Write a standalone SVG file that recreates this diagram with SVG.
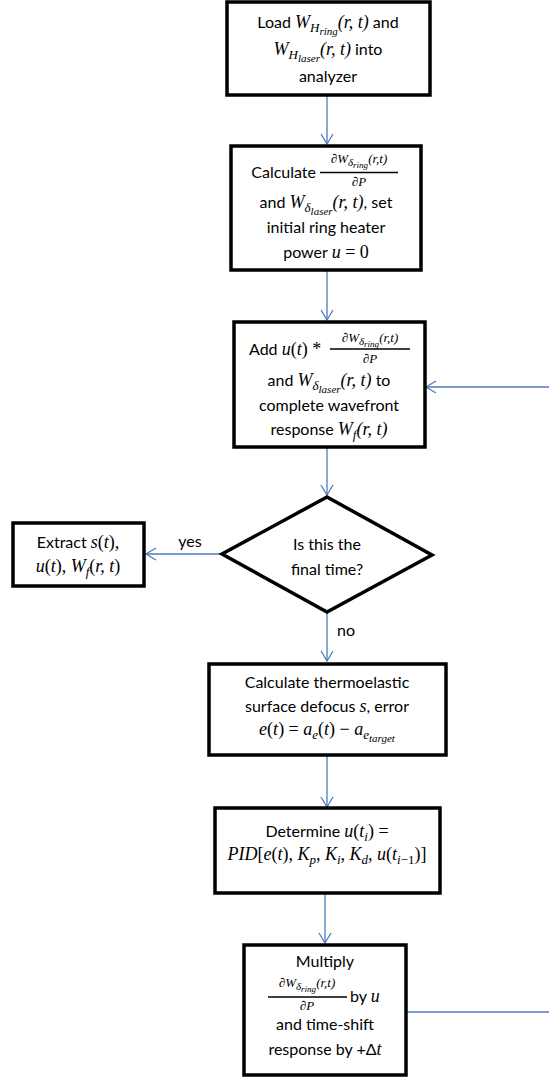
<svg xmlns="http://www.w3.org/2000/svg" width="549" height="1081" viewBox="0 0 549 1081">
<defs>
<style>
.box{fill:#fff;stroke:#000;stroke-width:3.5}
.t{font-family:Lato,"Noto Sans",sans-serif;font-size:16px;fill:#000;text-anchor:middle}
.ts{text-anchor:start}
.te{text-anchor:end}
.m{font-family:"Liberation Serif",serif;font-style:italic;font-size:18px}
.mu{font-family:"Liberation Serif",serif;font-style:normal;font-size:18px}
.s1{font-size:13px}
.s2{font-size:11px}
.f1{font-size:13px}
.f2{font-size:11px}
.f3{font-size:9px}
.bar{stroke:#000;stroke-width:1.5}
.conn{stroke:#4a7ebb;stroke-width:1.3;fill:none}
</style>
<marker id="arr" markerUnits="userSpaceOnUse" markerWidth="14" markerHeight="14" refX="11" refY="7" orient="auto">
<path d="M1,1 L11,7 L1,13" fill="none" stroke="#4a7ebb" stroke-width="1.3"/>
</marker>
</defs>

<g id="connectors">
<path class="conn" d="M327,95 L327,144" marker-end="url(#arr)"/>
<path class="conn" d="M327,271 L327,320" marker-end="url(#arr)"/>
<path class="conn" d="M549,387 L426,387" marker-end="url(#arr)"/>
<path class="conn" d="M327,448 L327,495" marker-end="url(#arr)"/>
<path class="conn" d="M221,554 L146,554" marker-end="url(#arr)"/>
<path class="conn" d="M327,612 L327,661" marker-end="url(#arr)"/>
<path class="conn" d="M327,756 L327,807" marker-end="url(#arr)"/>
<path class="conn" d="M325,894 L325,943" marker-end="url(#arr)"/>
<path class="conn" d="M407,1012 L549,1012"/>
<text class="t" x="190" y="547">yes</text>
<text class="t" x="346" y="636">no</text>
</g>

<g id="load">
<rect class="box" x="227" y="2" width="203" height="93"/>
<text class="t" x="328" y="28">Load <tspan class="m">W</tspan><tspan class="m s1" dy="4">H</tspan><tspan class="m s2" dy="3">ring</tspan><tspan class="m" dy="-7">(r, t)</tspan> and</text>
<text class="t" x="328" y="55"><tspan class="m">W</tspan><tspan class="m s1" dy="4">H</tspan><tspan class="m s2" dy="3">laser</tspan><tspan class="m" dy="-7">(r, t)</tspan> into</text>
<text class="t" x="328" y="82">analyzer</text>
</g>

<g id="calc-init">
<rect class="box" x="231" y="146" width="190" height="124"/>
<text class="t te" x="316" y="178">Calculate</text>
<text class="t" x="359" y="163"><tspan class="m f1">∂W</tspan><tspan class="m f2" dy="3">δ</tspan><tspan class="m f3" dy="2">ring</tspan><tspan class="m f1" dy="-5">(r,t)</tspan></text>
<line class="bar" x1="320" y1="172.5" x2="398" y2="172.5"/>
<text class="t" x="359" y="186"><tspan class="m f1">∂P</tspan></text>
<text class="t" x="326" y="208">and <tspan class="m">W</tspan><tspan class="m s1" dy="4">δ</tspan><tspan class="m s2" dy="3">laser</tspan><tspan class="m" dy="-7">(r, t)</tspan>, set</text>
<text class="t" x="326" y="233">initial ring heater</text>
<text class="t" x="326" y="258">power <tspan class="m">u</tspan><tspan class="mu"> = 0</tspan></text>
</g>

<g id="add">
<rect class="box" x="234" y="322" width="191" height="125"/>
<text class="t ts" x="249" y="355">Add <tspan class="m">u</tspan><tspan class="mu">(</tspan><tspan class="m">t</tspan><tspan class="mu">) *</tspan></text>
<text class="t" x="370" y="342"><tspan class="m f1">∂W</tspan><tspan class="m f2" dy="3">δ</tspan><tspan class="m f3" dy="2">ring</tspan><tspan class="m f1" dy="-5">(r,t)</tspan></text>
<line class="bar" x1="330" y1="349" x2="410" y2="349"/>
<text class="t" x="370" y="363"><tspan class="m f1">∂P</tspan></text>
<text class="t" x="329" y="386">and <tspan class="m">W</tspan><tspan class="m s1" dy="4">δ</tspan><tspan class="m s2" dy="3">laser</tspan><tspan class="m" dy="-7">(r, t)</tspan> to</text>
<text class="t" x="329" y="411">complete wavefront</text>
<text class="t" x="329" y="435">response <tspan class="m">W</tspan><tspan class="m s1" dy="4">f</tspan><tspan class="m" dy="-4">(r, t)</tspan></text>
</g>

<g id="extract">
<rect class="box" x="13" y="523" width="131" height="63"/>
<text class="t" x="78" y="548">Extract <tspan class="m">s</tspan><tspan class="mu">(</tspan><tspan class="m">t</tspan><tspan class="mu">),</tspan></text>
<text class="t" x="78" y="572"><tspan class="m">u</tspan><tspan class="mu">(</tspan><tspan class="m">t</tspan><tspan class="mu">), </tspan><tspan class="m">W</tspan><tspan class="m s1" dy="4">f</tspan><tspan class="mu" dy="-4">(</tspan><tspan class="m">r, t</tspan><tspan class="mu">)</tspan></text>
</g>

<g id="decision">
<polygon class="box" points="327,497 432,555 327,612 222,554"/>
<text class="t" x="327" y="550">Is this the</text>
<text class="t" x="327" y="575">final time?</text>
</g>

<g id="calc-error">
<rect class="box" x="209" y="664" width="237" height="91"/>
<text class="t" x="327" y="688">Calculate thermoelastic</text>
<text class="t" x="327" y="712">surface defocus <tspan class="m">s</tspan>, error</text>
<text class="t" x="327" y="735"><tspan class="m">e</tspan><tspan class="mu">(</tspan><tspan class="m">t</tspan><tspan class="mu">) = </tspan><tspan class="m">a</tspan><tspan class="m s1" dy="4">e</tspan><tspan class="mu" dy="-4">(</tspan><tspan class="m">t</tspan><tspan class="mu">) − </tspan><tspan class="m">a</tspan><tspan class="m s1" dy="4">e</tspan><tspan class="m s2" dy="3">target</tspan></text>
</g>

<g id="pid">
<rect class="box" x="215" y="808" width="225" height="85"/>
<text class="t" x="327" y="837">Determine <tspan class="m">u</tspan><tspan class="mu">(</tspan><tspan class="m">t</tspan><tspan class="m s1" dy="4">i</tspan><tspan class="mu" dy="-4">) =</tspan></text>
<text class="t" x="327" y="860"><tspan class="m">PID</tspan><tspan class="mu">[</tspan><tspan class="m">e</tspan><tspan class="mu">(</tspan><tspan class="m">t</tspan><tspan class="mu">), </tspan><tspan class="m">K</tspan><tspan class="m s1" dy="4">p</tspan><tspan class="mu" dy="-4">, </tspan><tspan class="m">K</tspan><tspan class="m s1" dy="4">i</tspan><tspan class="mu" dy="-4">, </tspan><tspan class="m">K</tspan><tspan class="m s1" dy="4">d</tspan><tspan class="mu" dy="-4">, </tspan><tspan class="m">u</tspan><tspan class="mu">(</tspan><tspan class="m">t</tspan><tspan class="m s1" dy="4">i</tspan><tspan class="mu s1">−1</tspan><tspan class="mu" dy="-4">)]</tspan></text>
</g>

<g id="multiply">
<rect class="box" x="244" y="945" width="162" height="130"/>
<text class="t" x="325" y="967">Multiply</text>
<text class="t" x="307" y="987"><tspan class="m f1">∂W</tspan><tspan class="m f2" dy="3">δ</tspan><tspan class="m f3" dy="2">ring</tspan><tspan class="m f1" dy="-5">(r,t)</tspan></text>
<line class="bar" x1="268" y1="997" x2="347" y2="997"/>
<text class="t" x="307" y="1010"><tspan class="m f1">∂P</tspan></text>
<text class="t ts" x="350" y="1002">by <tspan class="m">u</tspan></text>
<text class="t" x="325" y="1030">and time-shift</text>
<text class="t" x="325" y="1055">response by +Δ<tspan class="m">t</tspan></text>
</g>
</svg>
